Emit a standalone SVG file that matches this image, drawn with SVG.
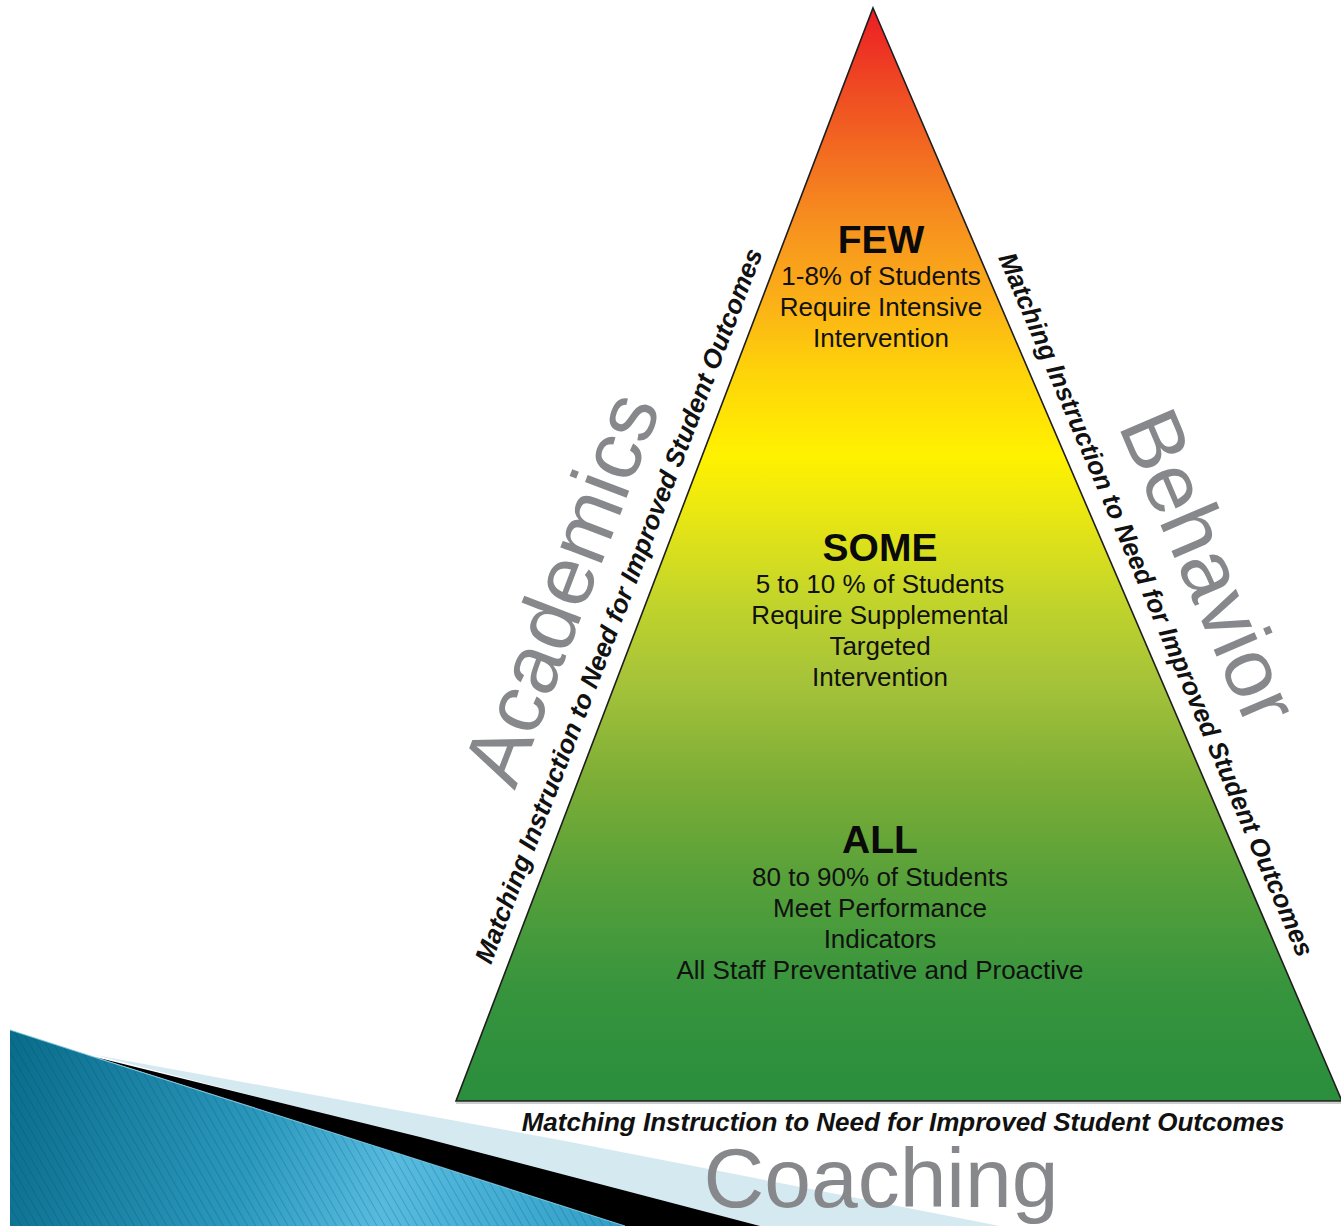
<svg xmlns="http://www.w3.org/2000/svg" width="1341" height="1226" viewBox="0 0 1341 1226">
  <defs>
    <linearGradient id="tierFill" gradientUnits="userSpaceOnUse" x1="0" y1="8" x2="0" y2="1101">
      <stop offset="0" stop-color="#ec1c24"/>
      <stop offset="0.07" stop-color="#ef4823"/>
      <stop offset="0.13" stop-color="#f26a21"/>
      <stop offset="0.2" stop-color="#f7921e"/>
      <stop offset="0.27" stop-color="#fbb117"/>
      <stop offset="0.33" stop-color="#fed20a"/>
      <stop offset="0.41" stop-color="#fff200"/>
      <stop offset="0.47" stop-color="#e6e515"/>
      <stop offset="0.54" stop-color="#c3d52a"/>
      <stop offset="0.62" stop-color="#a4c23a"/>
      <stop offset="0.71" stop-color="#7bad36"/>
      <stop offset="0.8" stop-color="#56a03a"/>
      <stop offset="0.9" stop-color="#36943d"/>
      <stop offset="1" stop-color="#2a8e3d"/>
    </linearGradient>
    <linearGradient id="waveFill" gradientUnits="userSpaceOnUse" x1="10" y1="1060" x2="630" y2="1226">
      <stop offset="0" stop-color="#0a6d8c"/>
      <stop offset="0.4" stop-color="#2b98bd"/>
      <stop offset="0.62" stop-color="#57bbdf"/>
      <stop offset="1" stop-color="#2f9ec6"/>
    </linearGradient>
    <pattern id="pinstripe" patternUnits="userSpaceOnUse" width="7" height="7" patternTransform="rotate(-30)">
      <line x1="0.5" y1="0" x2="0.5" y2="7" stroke="#063f55" stroke-opacity="0.22" stroke-width="1"/>
    </pattern>
  </defs>
  <style>
    .tier-title { font-family: "Liberation Sans", Arial, sans-serif; font-weight: bold; font-size: 39px; fill: #0a0a0a; text-anchor: middle; }
    .tier-text { font-family: "Liberation Sans", Arial, sans-serif; font-size: 26px; fill: #111; text-anchor: middle; }
    .motto { font-family: "Liberation Sans", Arial, sans-serif; font-weight: bold; font-style: italic; font-size: 26px; fill: #111; text-anchor: middle; }
    .domain { font-family: "Liberation Sans", Arial, sans-serif; font-size: 84px; fill: #87888b; text-anchor: middle; }
  </style>

  <!-- corner swoosh, bottom left -->
  <g id="corner-swoosh">
    <polygon points="95,1055 560,1140 1000,1226 760,1226" fill="#d5e9f1"/>
    <polygon points="95,1057 420,1137 760,1226 625,1226" fill="#000"/>
    <polygon points="10,1030 100,1059 400,1154 625,1226 10,1226" fill="url(#waveFill)"/>
    <polygon points="10,1030 100,1059 400,1154 625,1226 10,1226" fill="url(#pinstripe)"/>
    <polyline points="10,1030 100,1059 400,1154 625,1226" fill="none" stroke="#7cc6df" stroke-width="1.2" stroke-opacity="0.8"/>
  </g>

  <!-- pyramid body -->
  <g id="pyramid">
    <line x1="456" y1="1103" x2="1341" y2="1103" stroke="#bbb" stroke-width="1.5"/>
    <polygon points="873,8 1342,1101 456,1101" fill="url(#tierFill)" stroke="#1e1e1e" stroke-width="1.6" stroke-linejoin="miter"/>
  </g>

  <g id="tier-few">
    <text class="tier-title" x="881" y="253">FEW</text>
    <text class="tier-text" x="881" y="285">1-8% of Students</text>
    <text class="tier-text" x="881" y="316">Require Intensive</text>
    <text class="tier-text" x="881" y="347">Intervention</text>
  </g>

  <g id="tier-some">
    <text class="tier-title" x="880" y="561">SOME</text>
    <text class="tier-text" x="880" y="593">5 to 10 % of Students</text>
    <text class="tier-text" x="880" y="624">Require Supplemental</text>
    <text class="tier-text" x="880" y="655">Targeted</text>
    <text class="tier-text" x="880" y="686">Intervention</text>
  </g>

  <g id="tier-all">
    <text class="tier-title" x="880" y="853">ALL</text>
    <text class="tier-text" x="880" y="886">80 to 90% of Students</text>
    <text class="tier-text" x="880" y="917">Meet Performance</text>
    <text class="tier-text" x="880" y="948">Indicators</text>
    <text class="tier-text" x="880" y="979">All Staff Preventative and Proactive</text>
  </g>

  <!-- side captions running along the pyramid edges -->
  <g id="label-academics">
    <text class="motto" transform="translate(627,609) rotate(-69.12)">Matching Instruction to Need for Improved Student Outcomes</text>
    <text class="domain" transform="translate(588,599) rotate(-69.12)">Academics</text>
  </g>

  <g id="label-behavior">
    <text class="motto" transform="translate(1148,608) rotate(66.83)">Matching Instruction to Need for Improved Student Outcomes</text>
    <text class="domain" transform="translate(1183,578) rotate(66.83)">Behavior</text>
  </g>

  <g id="label-coaching">
    <text class="motto" x="903" y="1131">Matching Instruction to Need for Improved Student Outcomes</text>
    <text class="domain" x="881" y="1207">Coaching</text>
  </g>
</svg>
